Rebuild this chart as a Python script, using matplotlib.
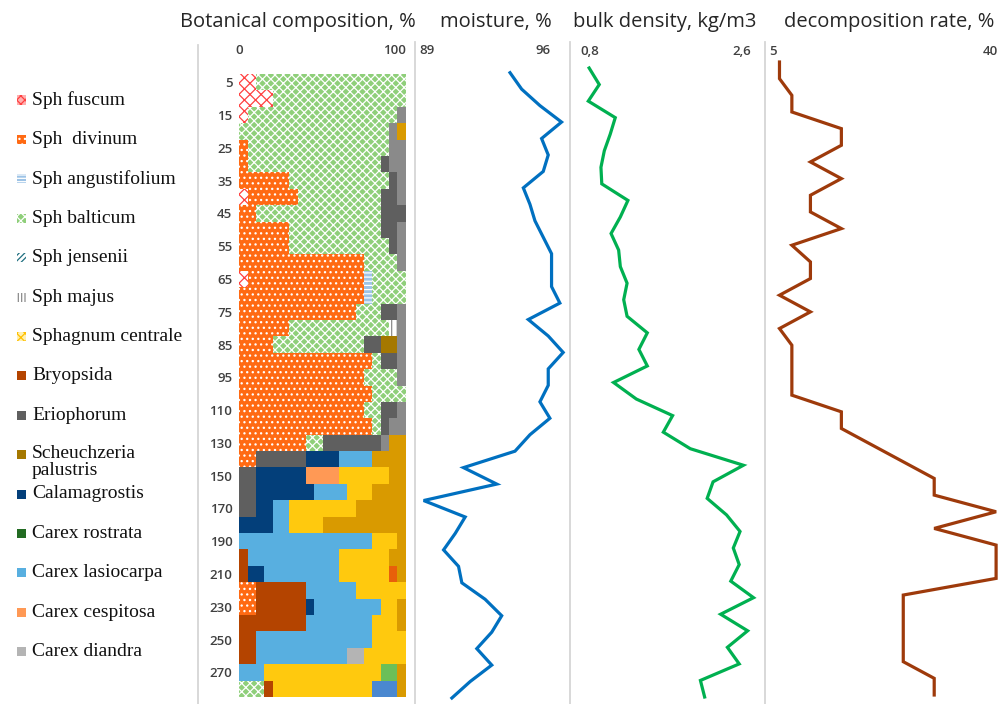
import matplotlib
matplotlib.use("Agg")
import matplotlib.pyplot as plt
from matplotlib.patches import Rectangle
from matplotlib.lines import Line2D

W, H = 1006, 704

# depth of each sample, cm (bar rows)
depths = [5, 10, 15, 20, 25, 30, 35, 40, 45, 50, 55, 60, 65, 70, 75, 80, 85, 90, 95, 100,
          110, 120, 130, 140, 150, 160, 170, 180, 190, 200, 210, 220, 230, 240, 250, 260, 270, 280]

# botanical composition, % per row
fuscum = [10, 20, 5, 0, 0, 0, 0, 5, 0, 0, 0, 0, 5] + [0] * 25
divinum = [0, 0, 0, 0, 5, 5, 30, 30, 10, 30, 30, 75, 70, 75, 70, 30, 20, 80, 75, 80, 75, 80, 40, 10,
           0, 0, 0, 0, 0, 0, 0, 10, 10, 0, 0, 0, 0, 0]
angustifolium = [0] * 12 + [5, 5] + [0] * 24
balticum = [90, 80, 90, 90, 85, 80, 60, 50, 75, 55, 60, 20, 20, 20, 15, 60, 55, 5, 20, 20, 10, 5, 10,
            0, 0, 0, 0, 0, 0, 0, 0, 0, 0, 0, 0, 0, 0, 15]
majus = [0] * 15 + [5] + [0] * 22
bryopsida = [0] * 29 + [5, 5, 30, 30, 40, 10, 10, 0, 5]
eriophorum = [0, 0, 0, 0, 0, 5, 5, 10, 15, 10, 5, 0, 0, 0, 10, 0, 10, 10, 0, 0, 10, 5, 35, 30, 10, 10, 10] + [0] * 11
calamagrostis = [0] * 23 + [20, 30, 35, 10, 20, 0, 0, 10, 0, 5, 0, 0, 0, 0, 0]
lasiocarpa = [0] * 23 + [20, 0, 20, 10, 10, 80, 55, 45, 30, 40, 40, 70, 55, 15, 0]
cespitosa = [0] * 24 + [20] + [0] * 13
diandra = [0] * 35 + [10, 0, 0]
yellow_sp = [0] * 24 + [30, 15, 40, 20, 15, 30, 30, 30, 10, 15, 20, 30, 70, 60]
green_sp = [0] * 36 + [10, 0]
blue_sp = [0] * 37 + [15]
red_sp = [0] * 30 + [5] + [0] * 7
scheuchzeria = [0] * 16 + [10] + [0] * 21
grey_sp = [0, 0, 5, 5, 10, 10, 5, 5, 0, 5, 5, 5, 0, 0, 5, 5, 5, 5, 5, 0, 5, 10, 5] + [0] * 15
gold_sp = [0, 0, 0, 5] + [0] * 18 + [10, 20, 10, 20, 30, 50, 5, 10, 5, 0, 5, 5, 0, 5, 5, 5]

# line profiles (39 points each, top to bottom)
moisture = [94.0, 94.7, 95.8, 97.1, 95.9, 96.3, 96.0, 94.8, 95.2, 95.5, 96.0, 96.5, 96.5, 96.5, 97.0,
            95.1, 96.3, 97.2, 96.3, 96.3, 95.8, 96.4, 95.2, 94.3, 91.2, 93.2, 88.8, 91.3, 90.7, 90.0,
            90.9, 91.1, 92.5, 93.5, 92.9, 92.0, 92.9, 91.6, 90.5]
density = [0.79, 0.91, 0.78, 1.10, 1.04, 0.97, 0.93, 0.94, 1.25, 1.16, 1.05, 1.14, 1.16, 1.24, 1.20,
           1.24, 1.48, 1.38, 1.48, 1.08, 1.35, 1.78, 1.67, 1.99, 2.62, 2.26, 2.19, 2.42, 2.58, 2.50,
           2.57, 2.47, 2.74, 2.35, 2.67, 2.43, 2.57, 2.11, 2.16]
decomposition = [6, 6, 8, 8, 16, 16, 11, 16, 11, 11, 16, 8, 11, 11, 6, 11, 6, 8, 8, 8, 8, 16, 16, 21,
                 26, 31, 31, 41, 31, 41, 41, 41, 26, 26, 26, 26, 26, 31, 31]

# stacking order: values, face colour, hatch, hatch colour
series = [
    (fuscum, "white", "xxx", "#ff4040"),
    (divinum, "#ff6a13", "...", "white"),
    (angustifolium, "#9dc3e6", "----", "white"),
    (balticum, "#8fcf7a", "xxxx", "white"),
    (majus, "white", "|||", "#8c8c8c"),
    (bryopsida, "#b44400", None, None),
    (eriophorum, "#5f5f5f", None, None),
    (calamagrostis, "#033f7a", None, None),
    (lasiocarpa, "#58afe0", None, None),
    (cespitosa, "#ff9955", None, None),
    (diandra, "#b4b4b4", None, None),
    (yellow_sp, "#ffc90e", None, None),
    (green_sp, "#6cbf58", None, None),
    (blue_sp, "#4a88d0", None, None),
    (red_sp, "#e8600a", None, None),
    (scheuchzeria, "#a57800", None, None),
    (grey_sp, "#8a8a8a", None, None),
    (gold_sp, "#d99a00", None, None),
]

legend_items = [
    ("Sph fuscum", "#ffb0b0", "xxxx", "#ff4040"),
    ("Sph  divinum", "#ff6a13", "...", "white"),
    ("Sph angustifolium", "#9dc3e6", "-----", "white"),
    ("Sph balticum", "#8fcf7a", "xxxx", "white"),
    ("Sph jensenii", "white", "//////", "#1f6f80"),
    ("Sph majus", "white", "|||||", "#8c8c8c"),
    ("Sphagnum centrale", "#fff0b0", "xxxx", "#ffc000"),
    ("Bryopsida", "#b44400", None, None),
    ("Eriophorum", "#5f5f5f", None, None),
    ("Scheuchzeria\npalustris", "#a57800", None, None),
    ("Calamagrostis", "#033f7a", None, None),
    ("Carex rostrata", "#226b22", None, None),
    ("Carex lasiocarpa", "#58afe0", None, None),
    ("Carex cespitosa", "#ff9955", None, None),
    ("Carex diandra", "#b4b4b4", None, None),
]

plt.rcParams["hatch.linewidth"] = 0.9
tick_col = "#404040"
title_font = "Open Sans"


def box(x0, x1, y0, y1):
    return [x0 / W, 1 - y1 / H, (x1 - x0) / W, (y1 - y0) / H]


fig = plt.figure(figsize=(W / 100, H / 100), dpi=100)

# --- botanical composition ---
ax = fig.add_axes(box(239.3, 405.7, 74, 697))
rows = list(range(len(depths)))
left = [0] * len(depths)
for vals, face, hatch, hc in series:
    ax.barh(rows, vals, left=left, height=1.0, color=face, hatch=hatch,
            edgecolor=hc if hc else face, linewidth=0)
    left = [a + b for a, b in zip(left, vals)]
ax.set_xlim(0, 100)
ax.set_ylim(len(depths) - 0.5, -0.5)
ax.set_yticks(rows[::2], [str(d) for d in depths[::2]])
ax.xaxis.tick_top()
ax.set_xticks([0, 100], ["0", "100"])
ax.get_xticklabels()[1].set_ha("right")
ax.tick_params(length=0, colors=tick_col, labelsize=9.5)
ax.tick_params(axis="y", pad=5)
ax.tick_params(axis="x", pad=12)
for lab in ax.get_xticklabels() + ax.get_yticklabels():
    lab.set_fontfamily(title_font)
    lab.set_fontweight("semibold")
for s in ax.spines.values():
    s.set_visible(False)


def line_panel(x0, x1, y0, y1, data, color, lim, ticks, labels, pad):
    a = fig.add_axes(box(x0, x1, y0, y1))
    a.plot(data, list(range(len(data))), color=color, lw=2.3, clip_on=False,
           solid_joinstyle="miter")
    a.set_ylim(len(data) - 1, 0)
    a.set_xlim(*lim)
    a.set_yticks([])
    a.xaxis.tick_top()
    a.set_xticks(ticks, labels)
    a.tick_params(length=0, colors=tick_col, labelsize=9.5, pad=pad)
    for lab in a.get_xticklabels():
        lab.set_fontfamily(title_font)
        lab.set_fontweight("semibold")
    for s in a.spines.values():
        s.set_visible(False)
    a.patch.set_alpha(0)
    return a


line_panel(415, 570, 72.7, 698, moisture, "#0070c0", (88.28, 97.61), [89, 96], ["89", "96"], 11)
line_panel(570, 765, 68, 697, density, "#00b050", (0.563, 2.876), [0.8, 2.6], ["0,8", "2,6"], 7)
line_panel(765, 1006, 62, 695, decomposition, "#9e3a0b", (3.66, 42.6), [5, 40], ["5", "40"], 3)

# separators
for xs, ytop in [(198, 45), (415, 42), (570, 42), (765, 42)]:
    fig.add_artist(Line2D([xs / W, xs / W], [1 - ytop / H, 0], transform=fig.transFigure,
                          color="#d6d6d6", lw=1.3))

# panel titles
for txt, xc in [("Botanical composition, %", 298), ("moisture, %", 496),
                ("bulk density, kg/m3", 665), ("decomposition rate, %", 889)]:
    fig.text(xc / W, 1 - 22 / H, txt, ha="center", va="center", fontsize=14.5,
             family=title_font, color="#262626")

# legend
for i, (name, face, hatch, hc) in enumerate(legend_items):
    yc = 100 + 39.4 * i
    fig.add_artist(Rectangle((17 / W, 1 - (yc + 4.5) / H), 9 / W, 9 / H, transform=fig.transFigure,
                             facecolor=face, hatch=hatch, edgecolor=hc if hc else face, linewidth=0))
    if "\n" in name:
        fig.text(32 / W, 1 - (yc - 10) / H, name, ha="left", va="top", fontsize=14,
                 family="Liberation Serif", color="#111111", linespacing=1.0)
    else:
        fig.text(32 / W, 1 - yc / H, name, ha="left", va="center", fontsize=14,
                 family="Liberation Serif", color="#111111")

fig.savefig("out.png", dpi=100)
